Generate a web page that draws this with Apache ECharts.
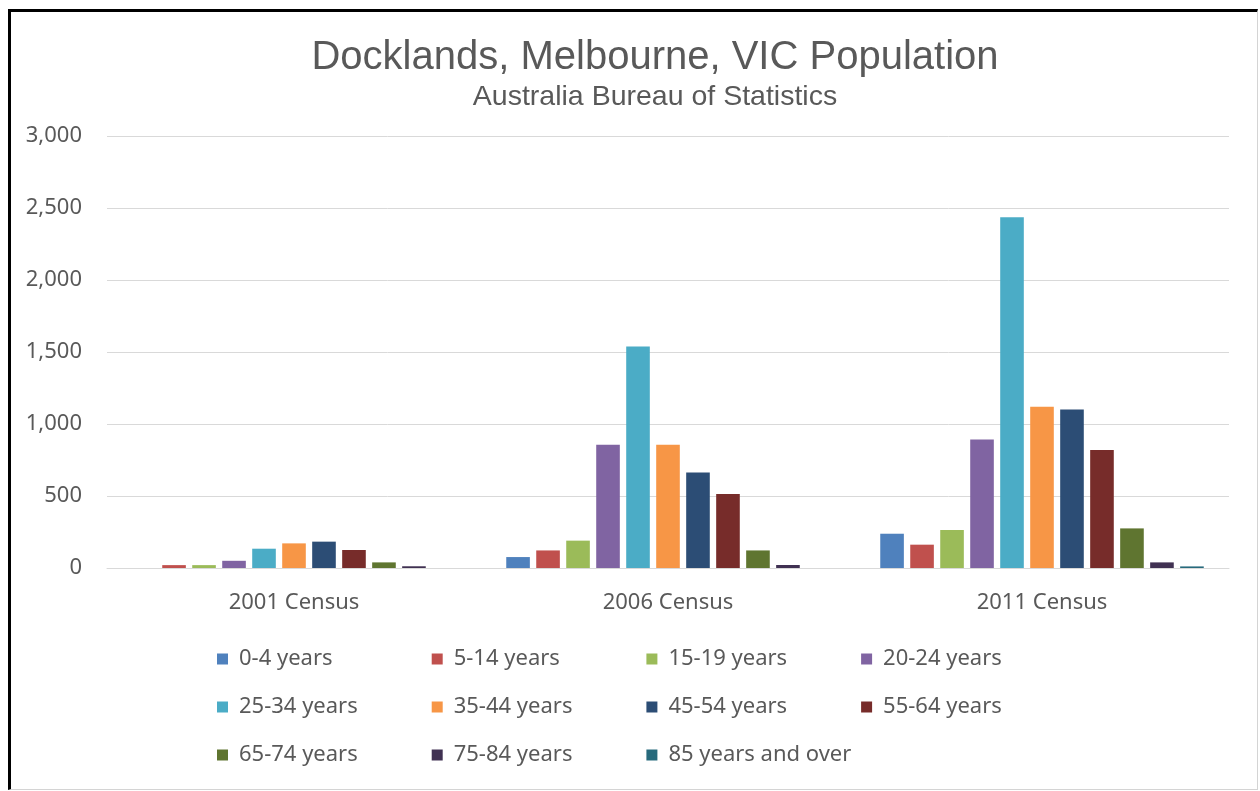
<!DOCTYPE html>
<html>
<head>
<meta charset="utf-8">
<script src="https://cdn.jsdelivr.net/npm/echarts@6/dist/echarts.min.js"></script>
<style>
  html, body { margin: 0; padding: 0; background: #ffffff; }
  #chart { position: absolute; left: 0; top: 0; width: 1260px; height: 791px; }
  #frame { position: absolute; left: 8px; top: 9px; width: 1250px; height: 781px; box-sizing: border-box;
           border-top: 3px solid #000; border-left: 3px solid #000;
           border-right: 1px solid #d4d4d4; border-bottom: 1px solid #d4d4d4; pointer-events: none; }
</style>
</head>
<body>
<div id="chart"></div>
<div id="frame"></div>
<script>
const titleText = 'Docklands, Melbourne, VIC Population';
const subtitleText = 'Australia Bureau of Statistics';
const censusYears = ['2001 Census', '2006 Census', '2011 Census'];
const ageGroups = ['0-4 years', '5-14 years', '15-19 years', '20-24 years', '25-34 years', '35-44 years',
                   '45-54 years', '55-64 years', '65-74 years', '75-84 years', '85 years and over'];
const ageColors = ['#4F81BD', '#C0504D', '#9BBB59', '#8064A2', '#4BACC6', '#F79646',
                   '#2C4D75', '#772C2A', '#5F7530', '#403152', '#276A7C'];

const age0to4   = [0, 76, 238];
const age5to14  = [20, 122, 162];
const age15to19 = [20, 190, 264];
const age20to24 = [50, 856, 893];
const age25to34 = [134, 1539, 2435];
const age35to44 = [171, 856, 1120];
const age45to54 = [183, 664, 1101];
const age55to64 = [125, 514, 819];
const age65to74 = [39, 122, 275];
const age75to84 = [12, 21, 39];
const age85plus = [0, 0, 11];
const seriesValues = [age0to4, age5to14, age15to19, age20to24, age25to34, age35to44,
                      age45to54, age55to64, age65to74, age75to84, age85plus];

const yTicks = { min: 0, max: 3000, interval: 500 };

const textColor = '#595959';
const fontFamily = '"Noto Sans", "Open Sans", sans-serif';
const titleFont = '"Liberation Sans", Arial, sans-serif';

const legendColumns = [0, 1, 2, 3].map(function (c) {
  return {
    orient: 'vertical',
    left: 217 + c * 214.7,
    top: 648,
    icon: 'rect',
    itemWidth: 11,
    itemHeight: 11,
    itemGap: 26,
    padding: 0,
    selectedMode: false,
    textStyle: { color: textColor, fontSize: 22, fontFamily: fontFamily, lineHeight: 22, padding: [0, 0, 0, 6] },
    data: ageGroups.filter(function (_, i) { return i % 4 === c; })
  };
});

const chart = echarts.init(document.getElementById('chart'), null, { renderer: 'canvas' });
chart.setOption({
  backgroundColor: '#ffffff',
  animation: false,
  color: ageColors,
  title: {
    text: titleText,
    subtext: subtitleText,
    left: 655,
    textAlign: 'center',
    top: 38,
    padding: 0,
    itemGap: 5,
    textStyle: { color: textColor, fontSize: 40, fontWeight: 'normal', fontFamily: titleFont },
    subtextStyle: { color: textColor, fontSize: 28.5, fontFamily: titleFont }
  },
  legend: legendColumns,
  grid: { left: 107, right: 31, top: 136, bottom: 223, containLabel: false },
  xAxis: {
    type: 'category',
    data: censusYears,
    axisLine: { show: true, lineStyle: { color: '#d9d9d9', width: 1 } },
    axisTick: { show: false },
    axisLabel: { color: textColor, fontSize: 22, fontFamily: fontFamily, margin: 24 },
    splitLine: { show: false }
  },
  yAxis: {
    type: 'value',
    min: yTicks.min,
    max: yTicks.max,
    interval: yTicks.interval,
    axisLine: { show: false },
    axisTick: { show: false },
    axisLabel: {
      color: textColor, fontSize: 22, fontFamily: fontFamily, margin: 25,
      formatter: function (v) { return v.toLocaleString('en-US'); }
    },
    splitLine: { show: true, lineStyle: { color: '#d9d9d9', width: 1 } }
  },
  series: ageGroups.map(function (name, i) {
    return {
      name: name,
      type: 'bar',
      data: seriesValues[i],
      barGap: '27%',
      barCategoryGap: '13.5%',
      itemStyle: { color: ageColors[i] }
    };
  })
});
</script>
</body>
</html>
